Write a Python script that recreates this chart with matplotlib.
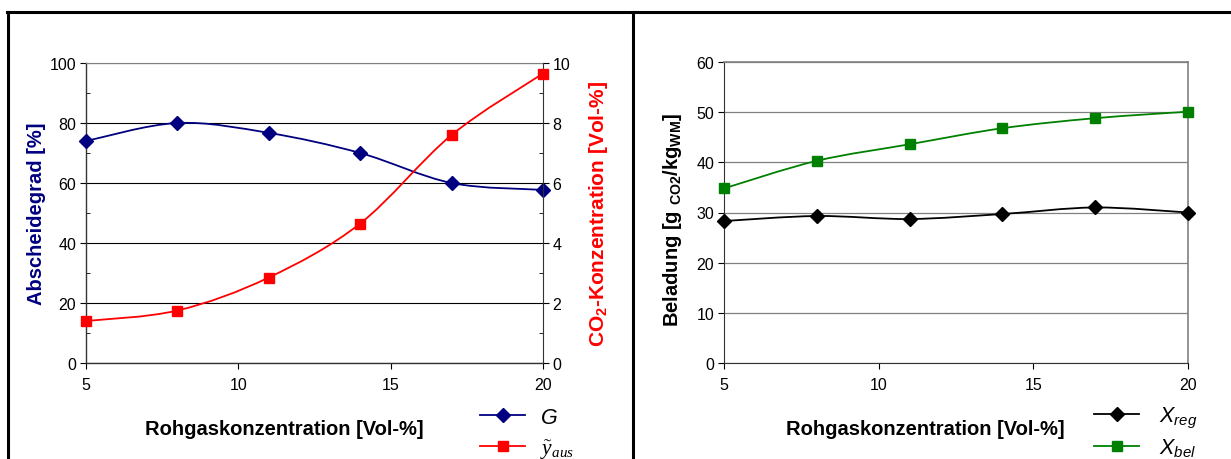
import numpy as np
import matplotlib
matplotlib.use("Agg")
import matplotlib.pyplot as plt
from matplotlib.path import Path
from matplotlib.patches import PathPatch
from matplotlib.lines import Line2D
from matplotlib.ticker import MultipleLocator

plt.rcParams["font.family"] = ["Liberation Sans", "DejaVu Sans"]
plt.rcParams["mathtext.fontset"] = "custom"
plt.rcParams["mathtext.rm"] = "Liberation Serif"
plt.rcParams["mathtext.it"] = "Liberation Serif:italic"
plt.rcParams["mathtext.sf"] = "Liberation Sans:italic"
plt.rcParams["mathtext.bf"] = "Liberation Sans:bold"

# Data
rohgas = [5, 8, 11, 14, 17, 20]
abscheidegrad = [74.0, 80.0, 76.7, 70.0, 60.0, 57.7]
co2_aus = [1.40, 1.75, 2.85, 4.65, 7.60, 9.65]
x_reg = [28.3, 29.3, 28.7, 29.7, 31.0, 30.0]
x_bel = [34.8, 40.3, 43.6, 46.8, 48.8, 50.1]

NAVY = "#000080"
RED = "#FF0000"
GREEN = "#008000"
GRAY = "#808080"


def smooth_path(x, y):
    """Cubic Bezier path through the points (spreadsheet-style smoothed line)."""
    p = np.column_stack([x, y]).astype(float)
    n = len(p)
    verts = [p[0]]
    codes = [Path.MOVETO]
    for i in range(n - 1):
        p_prev = p[i - 1] if i > 0 else p[i]
        p_next2 = p[i + 2] if i + 2 < n else p[i + 1]
        c1 = p[i] + (p[i + 1] - p_prev) / 6.0
        c2 = p[i + 1] - (p_next2 - p[i]) / 6.0
        verts += [c1, c2, p[i + 1]]
        codes += [Path.CURVE4] * 3
    return Path(verts, codes)


def draw_series(ax, x, y, color, marker, ms):
    patch = PathPatch(smooth_path(x, y), facecolor="none", edgecolor=color,
                      lw=1.3, zorder=3)
    ax.add_patch(patch)
    ax.plot(x, y, ls="none", marker=marker, color=color, ms=ms, zorder=4,
            clip_on=False)


W, H = 1231, 460
fig = plt.figure(figsize=(W / 100, H / 100), dpi=100)

# outer frame lines
fig.add_artist(Line2D([7 / W, 1], [1 - 13 / H, 1 - 13 / H], color="black", lw=2.2))
fig.add_artist(Line2D([7.5 / W, 7.5 / W], [0, 1 - 13 / H], color="black", lw=2.2))
fig.add_artist(Line2D([633 / W, 633 / W], [0, 1 - 13 / H], color="black", lw=2.2))

tick_fs = 11.5
label_fs = 14.5
legend_fs = 15.5

# ---------- left chart ----------
axL = fig.add_axes([86 / W, 1 - 364 / H, (543 - 86) / W, (364 - 64) / H])
axL.set_xlim(5, 20)
axL.set_ylim(0, 100)
axL.xaxis.set_major_locator(MultipleLocator(5))
axL.yaxis.set_major_locator(MultipleLocator(20))
axL.yaxis.set_minor_locator(MultipleLocator(10))
axL.grid(axis="y", which="major", color="black", lw=0.8)
axL.set_axisbelow(True)
axL.spines["top"].set_color(GRAY)
axL.spines["right"].set_visible(False)
for s in ("left", "bottom"):
    axL.spines[s].set_color("#333333")
    axL.spines[s].set_linewidth(1.0)
axL.tick_params(axis="both", which="major", direction="out", length=4,
                labelsize=tick_fs, pad=3)
axL.tick_params(axis="y", which="minor", direction="in", length=3)
axL.tick_params(axis="x", pad=6)
axL.set_ylabel("Abscheidegrad [%]", color=NAVY, fontsize=label_fs,
               fontweight="bold")
axL.yaxis.set_label_coords(-0.088, 0.5)
axL.set_xlabel("Rohgaskonzentration [Vol-%]", fontsize=label_fs,
               fontweight="bold")
axL.xaxis.set_label_coords(0.435, -0.186)

axR = axL.twinx()
axR.set_ylim(0, 10)
axR.yaxis.set_major_locator(MultipleLocator(2))
axR.yaxis.set_minor_locator(MultipleLocator(1))
for s in ("top", "left", "bottom"):
    axR.spines[s].set_visible(False)
axR.spines["right"].set_color("#333333")
axR.tick_params(axis="y", which="major", direction="out", length=4,
                labelsize=tick_fs, pad=3)
axR.tick_params(axis="y", which="minor", direction="in", length=3)
axR.set_ylabel(r"CO$\mathbf{_2}$-Konzentration [Vol-%]", color=RED,
               fontsize=15, fontweight="bold")
axR.yaxis.set_label_coords(1.097, 0.5)

draw_series(axL, rohgas, abscheidegrad, NAVY, "D", 7)
draw_series(axR, rohgas, co2_aus, RED, "s", 7.5)

hL = [Line2D([], [], color=NAVY, marker="D", ms=7, lw=1.3),
      Line2D([], [], color=RED, marker="s", ms=7.5, lw=1.3)]
fig.legend(hL, [r"$\mathsf{G}$", r"$\tilde{y}_{aus}$"],
           loc="upper left", bbox_to_anchor=(480 / W, 1 - 408 / H),
           frameon=False, fontsize=legend_fs, handlelength=2.1,
           handletextpad=0.7, labelspacing=0.42, borderaxespad=0, borderpad=0)

# ---------- right chart ----------
ax2 = fig.add_axes([724 / W, 1 - 364 / H, (1188 - 724) / W, (364 - 63) / H])
ax2.set_xlim(5, 20)
ax2.set_ylim(0, 60)
ax2.xaxis.set_major_locator(MultipleLocator(5))
ax2.yaxis.set_major_locator(MultipleLocator(10))
ax2.grid(axis="y", which="major", color=GRAY, lw=0.9)
ax2.set_axisbelow(True)
for s in ("top", "right"):
    ax2.spines[s].set_color(GRAY)
    ax2.spines[s].set_linewidth(1.2)
for s in ("left", "bottom"):
    ax2.spines[s].set_color("#333333")
ax2.tick_params(axis="both", which="major", direction="out", length=4,
                labelsize=tick_fs, pad=3)
ax2.tick_params(axis="x", pad=6)
ax2.set_ylabel(r"Beladung [g $\mathbf{_{CO2}}$/kg$\mathbf{_{WM}}$]",
               fontsize=label_fs, fontweight="bold")
ax2.yaxis.set_label_coords(-0.086, 0.48)
ax2.set_xlabel("Rohgaskonzentration [Vol-%]", fontsize=label_fs,
               fontweight="bold")
ax2.xaxis.set_label_coords(0.433, -0.186)

draw_series(ax2, rohgas, x_reg, "black", "D", 7)
draw_series(ax2, rohgas, x_bel, GREEN, "s", 7)

hR = [Line2D([], [], color="black", marker="D", ms=7, lw=1.3),
      Line2D([], [], color=GREEN, marker="s", ms=7, lw=1.3)]
fig.legend(hR, [r"$\mathsf{X_{reg}}$", r"$\mathsf{X_{bel}}$"],
           loc="upper left", bbox_to_anchor=(1094 / W, 1 - 406 / H),
           frameon=False, fontsize=legend_fs, handlelength=2.1,
           handletextpad=0.9, labelspacing=0.3, borderaxespad=0, borderpad=0)

fig.savefig("out.png", dpi=100)
